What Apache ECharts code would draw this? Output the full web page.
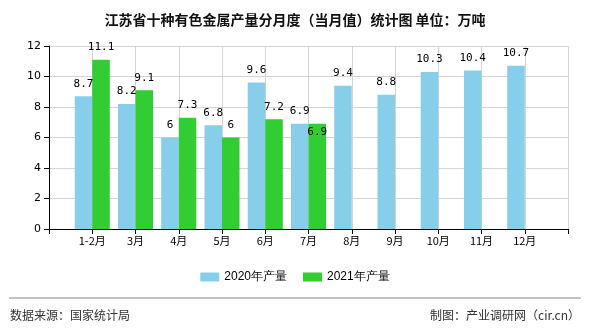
<!DOCTYPE html>
<html>
<head>
<meta charset="utf-8">
<style>
  html, body { margin: 0; padding: 0; background: #fff; }
  #chart { width: 590px; height: 330px; }
</style>
<script src="https://cdn.jsdelivr.net/npm/echarts@6/dist/echarts.min.js"></script>
</head>
<body>
<div id="chart"></div>
<script>
// Monthly output categories; empty slots pad both ends of the axis
const categories = ['', '1-2月', '3月', '4月', '5月', '6月', '7月', '8月', '9月', '10月', '11月', '12月', ''];
const output2020 = [null, 8.7, 8.2, 6, 6.8, 9.6, 6.9, 9.4, 8.8, 10.3, 10.4, 10.7, null];
const output2021 = [null, 11.1, 9.1, 7.3, 6, 7.2, 6.9, null, null, null, null, null, null];
const yTicks = { min: 0, max: 12, interval: 2 };

const labelFont = { fontFamily: 'DejaVu Sans Mono', fontSize: 11, color: '#000' };

const chart = echarts.init(document.getElementById('chart'));
chart.setOption({
  animation: false,
  title: {
    text: '江苏省十种有色金属产量分月度（当月值）统计图 单位：万吨',
    left: 'center',
    top: 8,
    textStyle: { fontFamily: 'Noto Sans CJK SC', fontSize: 14, fontWeight: 'bold', color: '#111' }
  },
  legend: {
    bottom: 42,
    left: 'center',
    icon: 'rect',
    itemWidth: 19,
    itemHeight: 9,
    itemGap: 16,
    textStyle: { fontFamily: 'Liberation Sans', fontSize: 12, color: '#000' },
    data: ['2020年产量', '2021年产量']
  },
  grid: { left: 49, right: 22, top: 46, bottom: 101 },
  xAxis: {
    type: 'category',
    data: categories,
    boundaryGap: false,
    axisLine: { lineStyle: { color: '#000' } },
    axisTick: { show: true, lineStyle: { color: '#000' }, length: 5 },
    axisLabel: { fontFamily: 'Noto Sans CJK SC', fontSize: 11, color: '#000', margin: 6, interval: 0 },
    splitLine: { show: true, lineStyle: { color: '#d4d4d4' } }
  },
  yAxis: {
    type: 'value',
    min: yTicks.min,
    max: yTicks.max,
    interval: yTicks.interval,
    axisLine: { show: true, lineStyle: { color: '#000' } },
    axisTick: { show: true, lineStyle: { color: '#000' }, length: 5 },
    axisLabel: { fontFamily: 'DejaVu Sans', fontSize: 11, color: '#000', margin: 8 },
    splitLine: { lineStyle: { color: '#d4d4d4' } }
  },
  series: [
    {
      name: '2020年产量',
      type: 'bar',
      data: output2020,
      barGap: '0%',
      barCategoryGap: '19%',
      itemStyle: { color: '#87CEEB' },
      label: Object.assign({ show: true, position: 'top', distance: 7 }, labelFont)
    },
    {
      name: '2021年产量',
      type: 'bar',
      data: output2021.map((v, i) => (i === 6
        ? { value: v, label: { position: 'insideTop', distance: 3 } }
        : v)),
      itemStyle: { color: '#32CD32' },
      label: Object.assign({ show: true, position: 'top', distance: 7 }, labelFont)
    }
  ],
  graphic: [
    {
      type: 'line',
      shape: { x1: 9, y1: 298, x2: 581, y2: 298 },
      style: { stroke: '#888', lineWidth: 1 }
    },
    {
      type: 'text',
      left: 10,
      top: 309,
      style: { text: '数据来源：国家统计局', font: '12px "Noto Sans CJK SC"', fill: '#333' }
    },
    {
      type: 'text',
      right: 10,
      top: 309,
      style: { text: '制图：产业调研网（cir.cn）', font: '12px "Noto Sans CJK SC"', fill: '#333' }
    }
  ]
});
</script>
</body>
</html>
